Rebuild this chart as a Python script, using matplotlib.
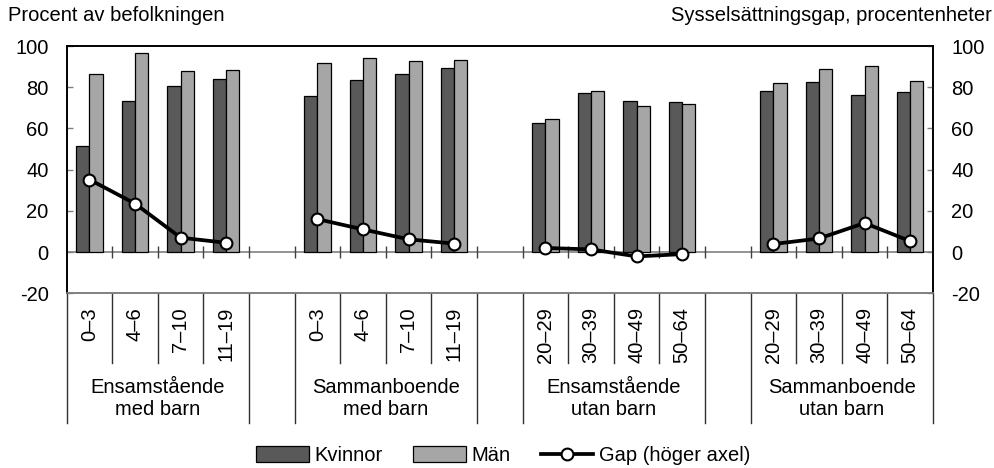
import numpy as np
import matplotlib
matplotlib.use("Agg")
import matplotlib.pyplot as plt
from matplotlib.lines import Line2D
from matplotlib.patches import Patch
import matplotlib.transforms as mtransforms

plt.rcParams['font.family'] = ['Liberation Sans', 'DejaVu Sans']
plt.rcParams['axes.unicode_minus'] = False

# data: 4 groups of 4 sub-categories
groups = ["Ensamstående\nmed barn", "Sammanboende\nmed barn",
          "Ensamstående\nutan barn", "Sammanboende\nutan barn"]
sub_labels = [["0–3", "4–6", "7–10", "11–19"],
              ["0–3", "4–6", "7–10", "11–19"],
              ["20–29", "30–39", "40–49", "50–64"],
              ["20–29", "30–39", "40–49", "50–64"]]
kvinnor = [[51.3, 73.1, 80.7, 83.9],
           [75.8, 83.4, 86.6, 89.2],
           [62.6, 77.0, 73.1, 72.8],
           [78.1, 82.3, 76.2, 77.8]]
man = [[86.5, 96.5, 87.8, 88.4],
       [91.7, 94.4, 92.8, 93.3],
       [64.6, 78.3, 71.0, 71.8],
       [82.0, 88.9, 90.2, 83.1]]
gap = [[35.2, 23.5, 7.0, 4.5],
       [16.0, 11.0, 6.2, 4.1],
       [2.0, 1.3, -2.1, -1.0],
       [3.9, 6.6, 14.1, 5.3]]

c_k = '#595959'
c_m = '#a6a6a6'
grey = '#808080'
fs = 14.5

fig = plt.figure(figsize=(9.95, 4.68), dpi=100)
ax = fig.add_axes([0.067, 0.3733, 0.8707, 0.5284])
ax2 = ax.twinx()

n_slots = 19
bw = 0.29
for g in range(4):
    start = g * 5
    xs = np.arange(start, start + 4)
    ax.bar(xs - bw / 2, kvinnor[g], bw, color=c_k, edgecolor='black', linewidth=0.9, zorder=2)
    ax.bar(xs + bw / 2, man[g], bw, color=c_m, edgecolor='black', linewidth=0.9, zorder=2)
    ax2.plot(xs, gap[g], color='black', lw=2.7, marker='o', ms=8.5,
             mfc='white', mec='black', mew=1.5, zorder=5)

for a in (ax, ax2):
    a.set_ylim(-20, 100)
    a.set_yticks(range(-20, 101, 20))
ax.set_xlim(-0.5, n_slots - 0.5)

# zero line with crossing ticks
bounds = np.arange(n_slots + 1) - 0.5
ax.axhline(0, color=grey, lw=1.2, zorder=1)
ax.plot(bounds[1:-1], np.zeros(len(bounds) - 2), ls='none', marker='|',
        ms=8.6, mew=1, color='#404040', zorder=1)

ax.set_xticks(bounds)
ax.set_xticklabels([])
ax.tick_params(axis='x', direction='in', length=4.5, width=1, color='#303030')
ax.tick_params(axis='y', direction='in', length=4.3, width=1, color=grey,
               labelsize=fs, pad=13)
ax2.tick_params(axis='y', direction='in', length=4.3, width=1, color=grey,
                labelsize=fs, pad=13)
ax2.set_xticks([])

for a in (ax, ax2):
    a.spines['bottom'].set_color(grey)
    a.spines['bottom'].set_linewidth(1.2)
    for s in ('top', 'left', 'right'):
        a.spines[s].set_color('black')
        a.spines[s].set_linewidth(1.2)

# category axis below plot
trans = mtransforms.blended_transform_factory(ax.transData, ax.transAxes)
for g in range(4):
    start = g * 5
    for j in range(4):
        ax.text(start + j, -0.055, sub_labels[g][j], rotation=90, ha='center', va='top',
                fontsize=fs, transform=trans)
    ax.text(start + 1.5, -0.425, groups[g], ha='center', va='center', fontsize=fs,
            linespacing=1.15, transform=trans)
    for j in range(1, 4):
        ax.plot([start + j - 0.5] * 2, [0, -0.283], color='#303030', lw=1,
                transform=trans, clip_on=False)
    for b in (start - 0.5, start + 3.5):
        ax.plot([b, b], [0, -0.524], color='#303030', lw=1,
                transform=trans, clip_on=False)

fig.text(0.008, 0.966, "Procent av befolkningen", fontsize=fs, ha='left', va='center')
fig.text(0.997, 0.966, "Sysselsättningsgap, procentenheter", fontsize=fs, ha='right', va='center')

handles = [Patch(facecolor=c_k, edgecolor='black', linewidth=0.9),
           Patch(facecolor=c_m, edgecolor='black', linewidth=0.9),
           Line2D([], [], color='black', lw=2.7, marker='o', ms=8.5,
                  mfc='white', mec='black', mew=1.5)]
fig.legend(handles, ["Kvinnor", "Män", "Gap (höger axel)"], loc='center',
           bbox_to_anchor=(0.506, 0.026), ncol=3, frameon=False, fontsize=fs,
           handlelength=2.6, handleheight=0.85, handletextpad=0.3,
           columnspacing=1.5, borderpad=0)

fig.savefig("out.png", dpi=100)
